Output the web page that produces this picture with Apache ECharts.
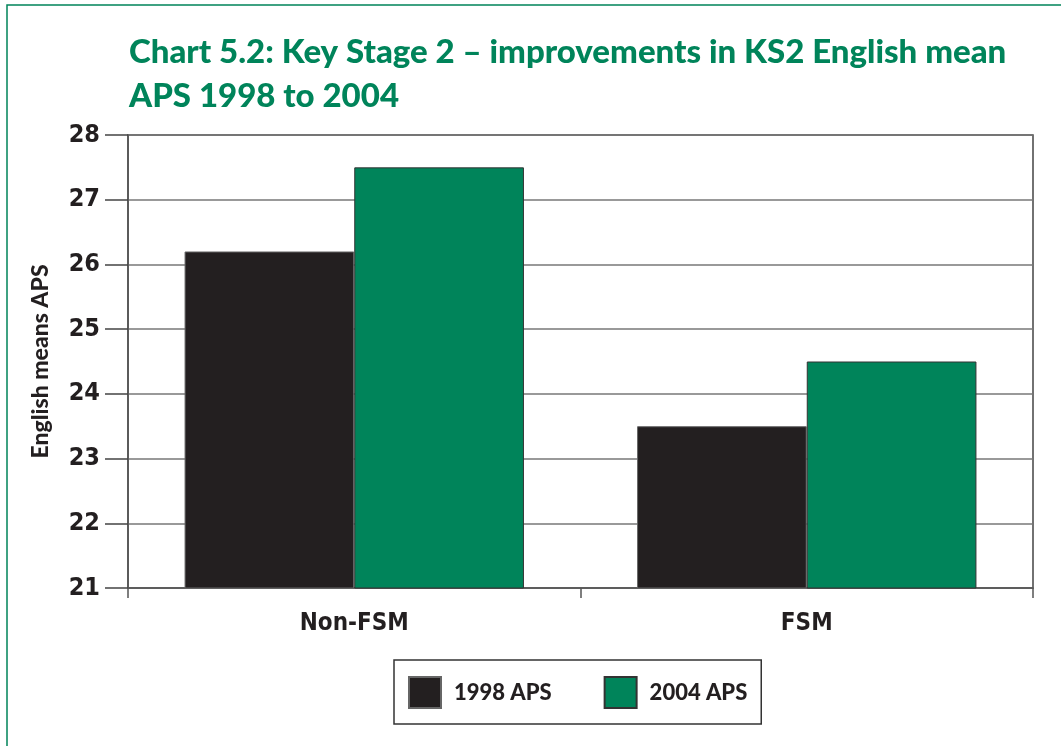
<!DOCTYPE html>
<html>
<head>
<meta charset="utf-8">
<script src="https://cdn.jsdelivr.net/npm/echarts@6/dist/echarts.min.js"></script>
<style>
  html, body { margin: 0; padding: 0; background: #fff; }
  #chart { width: 1061px; height: 746px; }
</style>
</head>
<body>
<div id="chart"></div>
<script>
// categories and series
const categories = ['Non-FSM', 'FSM'];
const aps1998 = [26.2, 23.5];
const aps2004 = [27.5, 24.5];
const seriesNames = ['1998 APS', '2004 APS'];

const green = '#00845a';
const black = '#231f20';
const condensed = '"Liberation Sans Narrow", "DejaVu Sans Condensed", sans-serif';

const myChart = echarts.init(document.getElementById('chart'));

const option = {
    animation: false,
    backgroundColor: '#fff',
    title: {
        text: 'Chart 5.2: Key Stage 2 – improvements in KS2 English mean\nAPS 1998 to 2004',
        left: 124,
        top: 25,
        textStyle: {
            color: green,
            fontFamily: 'Lato, sans-serif',
            fontWeight: 900,
            fontSize: 33,
            lineHeight: 44
        }
    },
    graphic: [
        {
            // outer frame
            type: 'rect',
            shape: { x: 7, y: 5, width: 1100, height: 800 },
            style: { fill: 'none', stroke: green, lineWidth: 1.5 },
            silent: true
        }
    ],
    legend: {
        data: seriesNames,
        left: 394,
        top: 660,
        width: 365,
        padding: [16, 14, 15, 14],
        itemWidth: 32,
        itemHeight: 31,
        itemGap: 52,
        borderColor: '#333',
        borderWidth: 1.5,
        icon: 'rect',
        textStyle: {
            fontFamily: 'Lato, sans-serif',
            fontWeight: 900,
            fontSize: 22,
            color: black,
            padding: [0, 0, 0, 8]
        }
    },
    grid: {
        left: 128,
        right: 28,
        top: 135,
        bottom: 158,
        show: true,
        borderColor: '#444',
        borderWidth: 1.5
    },
    xAxis: {
        type: 'category',
        data: categories,
        axisLine: { lineStyle: { color: '#555', width: 1.5 } },
        axisTick: { show: true, length: 10, lineStyle: { color: '#555', width: 1.5 } },
        axisLabel: {
            margin: 24,
            fontFamily: condensed,
            fontWeight: 'bold',
            fontSize: 24,
            color: black
        }
    },
    yAxis: {
        type: 'value',
        min: 21,
        max: 28,
        interval: 1,
        name: 'English means APS',
        nameLocation: 'middle',
        nameGap: 76,
        nameTextStyle: {
            fontFamily: 'Lato, sans-serif',
            fontWeight: 900,
            fontSize: 23,
            color: black
        },
        axisLine: { show: true, lineStyle: { color: '#555', width: 1.5 } },
        axisTick: { show: true, length: 23, lineStyle: { color: '#444', width: 1.5 } },
        splitLine: { lineStyle: { color: '#777', width: 1.5 } },
        axisLabel: {
            margin: 28,
            fontFamily: condensed,
            fontWeight: 'bold',
            fontSize: 25,
            color: black
        }
    },
    series: [
        {
            name: seriesNames[0],
            type: 'bar',
            data: aps1998,
            barGap: '0%',
            barCategoryGap: '25%',
            itemStyle: { color: black, borderColor: '#666', borderWidth: 1 }
        },
        {
            name: seriesNames[1],
            type: 'bar',
            data: aps2004,
            itemStyle: { color: green, borderColor: '#333', borderWidth: 1 }
        }
    ]
};

option && myChart.setOption(option);
</script>
</body>
</html>
